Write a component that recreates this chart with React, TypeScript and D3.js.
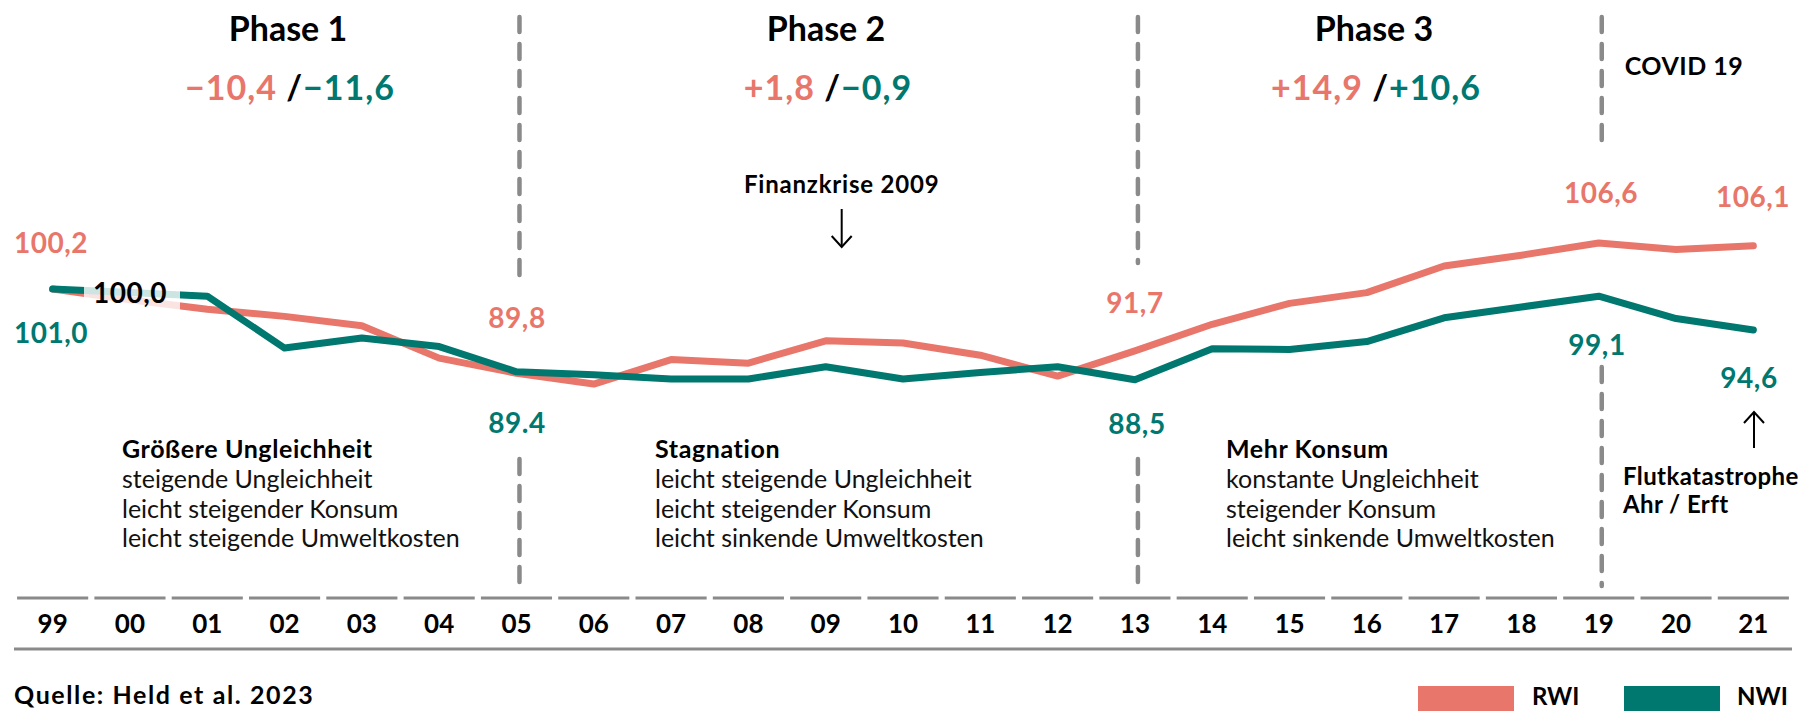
import React from 'react';
import * as d3 from 'd3';

// years shown on the axis (99 .. 21)
const years = ['99', '00', '01', '02', '03', '04', '05', '06', '07', '08', '09', '10',
  '11', '12', '13', '14', '15', '16', '17', '18', '19', '20', '21'];

// index values (1999 = 100)
const rwi = [100.0, 98.5, 97.2, 96.2, 94.9, 90.4, 88.3, 86.8, 90.2, 89.7, 92.8, 92.5,
  90.8, 87.9, 91.4, 95.1, 98.0, 99.5, 103.2, 104.7, 106.4, 105.5, 106.0];
const nwi = [100.0, 99.5, 99.0, 91.8, 93.2, 92.0, 88.5, 88.1, 87.5, 87.5, 89.2, 87.5,
  88.4, 89.2, 87.4, 91.7, 91.6, 92.7, 96.0, 97.5, 99.0, 95.9, 94.3];

const phaseTitles = ['Phase 1', 'Phase 2', 'Phase 3'];
const phaseRwiDelta = ['\u221210,4', '+1,8', '+14,9'];
const phaseNwiDelta = ['\u221211,6', '\u22120,9', '+10,6'];
const phaseHeads = ['Größere Ungleichheit', 'Stagnation', 'Mehr Konsum'];
const phaseLines = [
  ['steigende Ungleichheit', 'leicht steigender Konsum', 'leicht steigende Umweltkosten'],
  ['leicht steigende Ungleichheit', 'leicht steigender Konsum', 'leicht sinkende Umweltkosten'],
  ['konstante Ungleichheit', 'steigender Konsum', 'leicht sinkende Umweltkosten'],
];
const breakYears = ['05', '13', '19'];

// layout
const phaseX = [288, 826, 1374];
const phaseTextX = [122, 655, 1226];

const RED = '#e8766a';
const TEAL = '#00786f';
const GREY = '#8a8a8a';
const FONT = 'Lato, "Open Sans", sans-serif';

const W = 1807;
const H = 711;

export default function App() {
  const x = d3.scaleBand<string>().domain(years).range([14, 1792]).paddingInner(0.08).paddingOuter(0.04);
  const cx = (y: string) => (x(y) as number) + x.bandwidth() / 2;
  const y = d3.scaleLinear().domain([80, 110]).range([433, 217]);

  const line = d3.line<number>().x((_, i) => cx(years[i])).y(d => y(d));

  const bold = { fontFamily: FONT, fontWeight: 700 } as const;
  const val = { ...bold, fontSize: 28, letterSpacing: 0.5 };

  return (
    <svg width={W} height={H} style={{ position: 'absolute', left: 0, top: 0, background: '#fff' }}>
      {/* vertical phase separators */}
      {breakYears.map((b, i) => (
        <g key={b} stroke={GREY} strokeWidth={4.5} strokeDasharray="15 12" strokeLinecap="round">
          <line x1={cx(b) + 3} x2={cx(b) + 3} y1={17} y2={i === 2 ? 150 : i === 1 ? 263 : 278} />
          <line x1={cx(b) + 3} x2={cx(b) + 3} y1={i === 2 ? 367 : 459} y2={586} />
        </g>
      ))}

      {/* phase titles and deltas */}
      {phaseTitles.map((t, i) => (
        <g key={t}>
          <text x={phaseX[i]} y={41} textAnchor="middle" fontSize={34} {...bold}>{t}</text>
          <text x={phaseX[i] + 2} y={100} textAnchor="middle" fontSize={34} letterSpacing={1} {...bold}>
            <tspan fill={RED}>{phaseRwiDelta[i]}</tspan>
            <tspan fill="#000"> /</tspan>
            <tspan fill={TEAL}>{phaseNwiDelta[i]}</tspan>
          </text>
        </g>
      ))}
      <text x={1684} y={75} textAnchor="middle" fontSize={25} letterSpacing={0.5} {...bold}>COVID 19</text>

      {/* Finanzkrise annotation */}
      <text x={cx('09') + 16} y={193} textAnchor="middle" fontSize={24} letterSpacing={0.8} {...bold}>Finanzkrise 2009</text>
      <g stroke="#000" strokeWidth={2} fill="none">
        <line x1={cx('09') + 16} x2={cx('09') + 16} y1={209} y2={247} />
        <polyline points={`${cx('09') + 6},${236} ${cx('09') + 16},${247} ${cx('09') + 26},${236}`} />
      </g>

      {/* series lines */}
      <path d={line(rwi) || ''} fill="none" stroke={RED} strokeWidth={7} strokeLinecap="round" strokeLinejoin="round" />
      <path d={line(nwi) || ''} fill="none" stroke={TEAL} strokeWidth={7} strokeLinecap="round" strokeLinejoin="round" />

      {/* value labels */}
      <text x={14} y={253} fill={RED} {...val}>100,2</text>
      <text x={14} y={343} fill={TEAL} {...val}>101,0</text>
      <rect x={84} y={280} width={96} height={30} fill="#fff" opacity={0.8} />
      <text x={93} y={303} fill="#000" {...val}>100,0</text>
      <text x={517} y={328} textAnchor="middle" fill={RED} {...val}>89,8</text>
      <text x={517} y={433} textAnchor="middle" fill={TEAL} {...val}>89.4</text>
      <text x={1135} y={313} textAnchor="middle" fill={RED} {...val}>91,7</text>
      <text x={1137} y={434} textAnchor="middle" fill={TEAL} {...val}>88,5</text>
      <text x={1601} y={203} textAnchor="middle" fill={RED} {...val}>106,6</text>
      <text x={1753} y={207} textAnchor="middle" fill={RED} {...val}>106,1</text>
      <text x={1597} y={355} textAnchor="middle" fill={TEAL} {...val}>99,1</text>
      <text x={1749} y={388} textAnchor="middle" fill={TEAL} {...val}>94,6</text>

      {/* Flut annotation */}
      <g stroke="#000" strokeWidth={2} fill="none">
        <line x1={1754} x2={1754} y1={448} y2={412} />
        <polyline points="1744,423 1754,412 1764,423" />
      </g>
      <text x={1623} y={485} fontSize={24} letterSpacing={0.4} {...bold}>Flutkatastrophe</text>
      <text x={1623} y={513} fontSize={24} letterSpacing={0.4} {...bold}>Ahr / Erft</text>

      {/* phase descriptions */}
      {phaseHeads.map((h, i) => (
        <g key={h}>
          <text x={phaseTextX[i]} y={458} fontSize={25} letterSpacing={0.6} {...bold}>{h}</text>
          {phaseLines[i].map((l, j) => (
            <text key={l + j} x={phaseTextX[i]} y={488 + j * 29.5} fontSize={25} fontFamily={FONT} fontWeight={400} fill="#111">{l}</text>
          ))}
        </g>
      ))}

      {/* x axis */}
      {years.map(yr => (
        <g key={yr}>
          <line x1={x(yr) as number} x2={(x(yr) as number) + x.bandwidth()} y1={598} y2={598} stroke={GREY} strokeWidth={3} />
          <text x={cx(yr)} y={633} textAnchor="middle" fontSize={26} {...bold}>{yr}</text>
        </g>
      ))}
      <line x1={14} x2={1792} y1={649} y2={649} stroke={GREY} strokeWidth={3} />

      {/* source + legend */}
      <text x={14} y={704} fontSize={25} letterSpacing={1.6} {...bold}>Quelle: Held et al. 2023</text>
      <rect x={1418} y={686} width={96} height={25} fill={RED} />
      <text x={1532} y={705} fontSize={24} {...bold}>RWI</text>
      <rect x={1624} y={686} width={96} height={25} fill={TEAL} />
      <text x={1737} y={705} fontSize={24} {...bold}>NWI</text>
    </svg>
  );
}
